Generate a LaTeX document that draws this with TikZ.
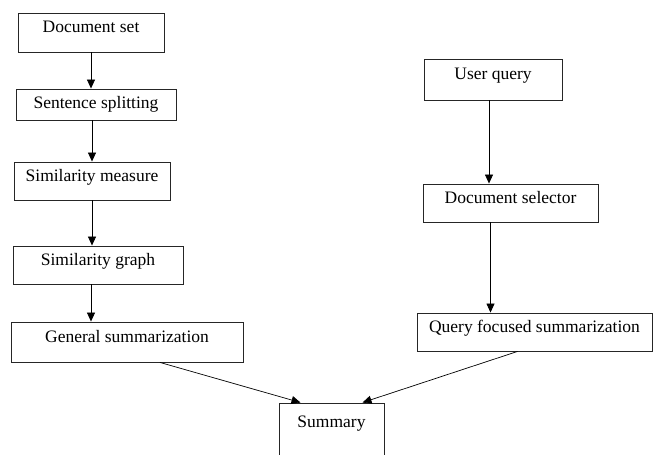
\documentclass[tikz,border=0pt]{standalone}
\usepackage{fontspec}
\setmainfont{Liberation Serif}
\usetikzlibrary{arrows.meta}

\begin{document}
\begin{tikzpicture}[x=1pt,y=-1pt,>={Triangle[length=9pt,width=8pt]},line width=0.7pt,
    box/.style={rectangle,draw=black!85,line width=0.9pt,inner sep=0pt,font=\fontsize{17.5}{20}\selectfont,text height=12pt,text depth=12pt}]

            \useasboundingbox (0,0) rectangle (654,455);

            \node[box, minimum width=146pt, minimum height=39pt] (docset) at (91,32.5) {Document set};
            \node[box, minimum width=160pt, minimum height=31pt, text depth=4pt] (split) at (96,104.5) {Sentence splitting};
            \node[box, minimum width=156pt, minimum height=38pt] (simmeas) at (92,181) {Similarity measure};
            \node[box, minimum width=170pt, minimum height=38pt] (simgraph) at (98,265) {Similarity graph};
            \node[box, minimum width=232pt, minimum height=40pt] (general) at (127,342) {General summarization};

            \node[box, minimum width=138pt, minimum height=41pt] (userq) at (493,79.5) {User query};
            \node[box, minimum width=175pt, minimum height=38pt] (docsel) at (510.5,203) {Document selector};
            \node[box, minimum width=235pt, minimum height=38pt] (qfs) at (534.5,332) {Query focused summarization};

            \node[box, minimum width=105pt, text height=24pt, text depth=46pt] (summary) at (331.5,438) {Summary};

            \draw[->] (docset.south) -- (docset.south |- split.north);
            \draw[->] (simmeas.north |- split.south) -- (simmeas.north);
            \draw[->] (simmeas.south) -- (simmeas.south |- simgraph.north);
            \draw[->] ([xshift=-7pt]simgraph.south) -- ([xshift=-7pt]simgraph.south |- general.north);

            \draw[->] ([xshift=-4pt]userq.south) -- ([xshift=-4pt]userq.south |- docsel.north);
            \draw[->] ([xshift=-20pt]docsel.south) -- ([xshift=-20pt]docsel.south |- qfs.north);

            \draw[->] ([xshift=33pt]general.south) -- ([xshift=-31pt]summary.north);
            \draw[->] ([xshift=-17pt]qfs.south) -- ([xshift=31pt]summary.north);

            ;
        \end{tikzpicture}
\end{document}
